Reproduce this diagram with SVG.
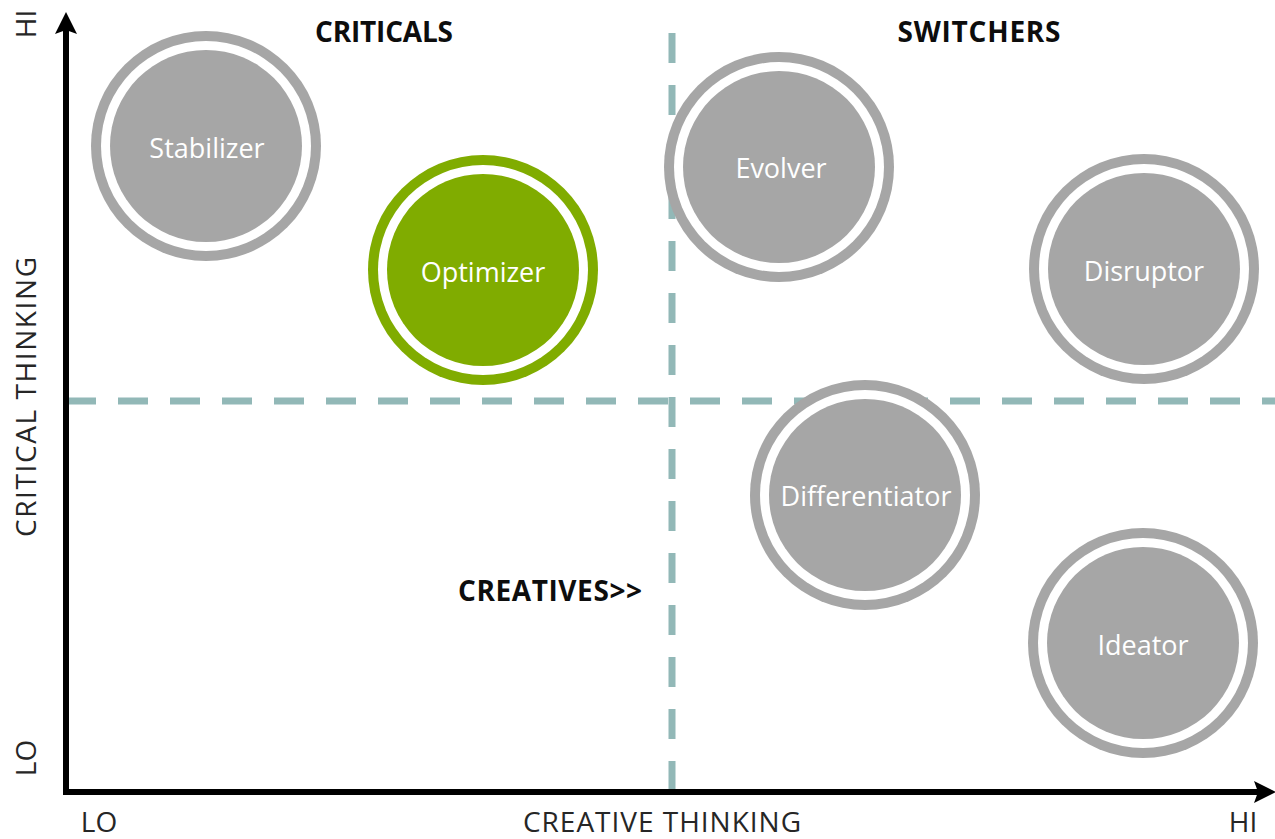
<svg xmlns="http://www.w3.org/2000/svg" width="1275" height="839" viewBox="0 0 1275 839">
  <style>
    .ring { fill: #a6a6a6; }
    .gap { fill: #ffffff; }
    .core { fill: #a6a6a6; }
    .green .ring, .green .core { fill: #80ac00; }
    .lbl { font-family: "Open Sans", "Liberation Sans", sans-serif; font-size: 27px; fill: #ffffff; text-anchor: middle; }
    .hdr { font-family: "Open Sans", "Liberation Sans", sans-serif; font-size: 28px; font-weight: bold; fill: #0d0d0d; text-anchor: middle; }
    .axl { font-family: "Open Sans", "Liberation Sans", sans-serif; font-size: 28px; fill: #262626; text-anchor: middle; }
    .dash { stroke: #92b8b7; stroke-width: 7; stroke-dasharray: 30 22; fill: none; }
    .axis { stroke: #000000; stroke-width: 6; fill: none; }
  </style>
  <defs>
    <marker id="arrow" viewBox="0 -11 22 22" refX="4" refY="0" markerWidth="22" markerHeight="22" markerUnits="userSpaceOnUse" orient="auto-start-reverse">
      <path d="M0,-11 L22,0 L0,11 L4,0 Z" fill="#000000"/>
    </marker>
  </defs>
  <rect x="0" y="0" width="1275" height="839" fill="#ffffff"/>

  <g id="connectors">
    <line class="dash" x1="66" y1="401" x2="1275" y2="401"/>
    <line class="dash" x1="672" y1="33" x2="672" y2="789"/>
    <polyline class="axis" points="66,30 66,792 1258,792" marker-start="url(#arrow)" marker-end="url(#arrow)"/>
  </g>

  <g id="stabilizer">
    <circle class="ring" cx="206" cy="146" r="115"/>
    <circle class="gap" cx="206" cy="146" r="105"/>
    <circle class="core" cx="206" cy="146" r="96"/>
    <text class="lbl" x="207" y="158">Stabilizer</text>
  </g>
  <g id="optimizer" class="green">
    <circle class="ring" cx="483" cy="270" r="115"/>
    <circle class="gap" cx="483" cy="270" r="105"/>
    <circle class="core" cx="483" cy="270" r="96"/>
    <text class="lbl" x="483" y="282">Optimizer</text>
  </g>
  <g id="evolver">
    <circle class="ring" cx="779" cy="167" r="115"/>
    <circle class="gap" cx="779" cy="167" r="105"/>
    <circle class="core" cx="779" cy="167" r="96"/>
    <text class="lbl" x="781" y="178">Evolver</text>
  </g>
  <g id="disruptor">
    <circle class="ring" cx="1144" cy="269" r="115"/>
    <circle class="gap" cx="1144" cy="269" r="105"/>
    <circle class="core" cx="1144" cy="269" r="96"/>
    <text class="lbl" x="1144" y="281">Disruptor</text>
  </g>
  <g id="differentiator">
    <circle class="ring" cx="865" cy="495" r="115"/>
    <circle class="gap" cx="865" cy="495" r="105"/>
    <circle class="core" cx="865" cy="495" r="96"/>
    <text class="lbl" x="866" y="506">Differentiator</text>
  </g>
  <g id="ideator">
    <circle class="ring" cx="1143" cy="643" r="115"/>
    <circle class="gap" cx="1143" cy="643" r="105"/>
    <circle class="core" cx="1143" cy="643" r="96"/>
    <text class="lbl" x="1143" y="655">Ideator</text>
  </g>

  <g id="labels">
    <text class="hdr" x="384" y="42" textLength="138">CRITICALS</text>
    <text class="hdr" x="979" y="42" textLength="163">SWITCHERS</text>
    <text class="hdr" x="550" y="601" textLength="184">CREATIVES&gt;&gt;</text>
    <text class="axl" x="662" y="832" textLength="278">CREATIVE THINKING</text>
    <text class="axl" x="99" y="832">LO</text>
    <text class="axl" x="1243" y="832">HI</text>
    <text class="axl" transform="translate(36,397) rotate(-90)" x="0" y="0" textLength="280">CRITICAL THINKING</text>
    <text class="axl" transform="translate(36,24) rotate(-90)" x="0" y="0">HI</text>
    <text class="axl" transform="translate(36,758) rotate(-90)" x="0" y="0">LO</text>
  </g>
</svg>
